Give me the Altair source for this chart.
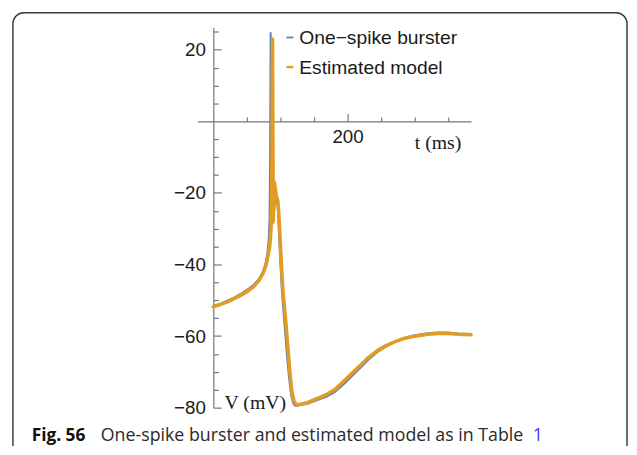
import altair as alt
import pandas as pd

# ---- data ----
t_burster = [0, 10, 20, 30, 40, 50, 60, 68, 74, 78, 80.5, 82.5, 83.8, 84.6, 85.1, 85.4,
             85.8, 86.3, 87, 88.5, 90, 92, 94, 96, 98, 100, 102, 104, 107, 110, 113, 116,
             119, 122, 126, 140, 158, 170, 182, 195, 207, 220, 231, 245, 256, 270, 280,
             295, 305, 320, 334, 350, 365, 384]
v_burster = [-51.5, -51.0, -50.2, -49.3, -48.3, -47.1, -45.7, -44.0, -42.0, -39.5, -37.0,
             -33.0, -27.0, -10.0, 10.0, 24.7, 10.0, -10.0, -25.0, -28.5, -26.0, -22.0, -21.0,
             -24.0, -32.0, -40.0, -47.0, -52.0, -59.0, -66.0, -72.0, -76.5, -78.8, -79.5,
             -79.4, -78.9, -77.7, -76.8, -75.5, -73.3, -71.1, -68.7, -66.6, -64.4, -63.1,
             -61.7, -60.9, -60.0, -59.6, -59.2, -59.0, -59.0, -59.3, -59.4]

t_model = [0, 10, 20, 30, 40, 50, 60, 68, 74, 78, 81, 84, 86, 87, 87.7, 88.2, 88.7, 89.3,
           90.2, 91, 92.5, 94, 96, 98, 100, 102, 104, 106, 108, 111, 114, 117, 120, 123,
           126, 140, 158, 170, 182, 195, 207, 220, 231, 245, 256, 270, 280, 295, 305, 320,
           334, 350, 365, 384]
v_model = [-51.8, -51.2, -50.5, -49.6, -48.7, -47.6, -46.2, -44.5, -42.5, -40.5, -38.0,
           -35.0, -30.0, -20.0, 0.0, 23.0, 0.0, -28.0, -22.0, -17.0, -19.0, -21.0, -22.0,
           -27.0, -35.0, -42.0, -48.0, -52.0, -56.0, -63.0, -70.0, -75.5, -78.0, -79.0,
           -79.2, -78.6, -77.2, -76.2, -74.8, -72.5, -70.3, -68.0, -66.0, -64.0, -62.8,
           -61.6, -60.9, -60.2, -59.9, -59.5, -59.3, -59.3, -59.5, -59.6]

series_names = ["One\u2212spike burster", "Estimated model"]
x_minor_ticks = [50, 100, 150, 200, 250, 300, 350]
x_label_values = [200]
y_label_values = [-80, -60, -40, -20, 20]
y_tick_values = [-80, -75, -70, -65, -60, -55, -50, -45, -40, -35, -30, -25, -20, -15,
                 -10, -5, 5, 10, 15, 20, 25]
x_title = "t (ms)"
y_title = "V (mV)"
caption_bold = "Fig. 56"
caption_text = "One-spike burster and estimated model as in Table"
caption_ref = "1"

BLUE = "#5E81B5"
ORANGE = "#E19C24"
AXIS = "#777777"

W, H = 277, 385
XDOM = [-23.5, 384]
YDOM = [-80, 26.2]
Y0PX = (YDOM[1] - 0) / (YDOM[1] - YDOM[0]) * H      # pixel row of V = 0
X0PX = (0 - XDOM[0]) / (XDOM[1] - XDOM[0]) * W      # pixel column of t = 0

df_b = pd.DataFrame({"t": t_burster, "v": v_burster})
df_m = pd.DataFrame({"t": t_model, "v": v_model})

xs = alt.Scale(domain=XDOM, nice=False, zero=False)
ys = alt.Scale(domain=YDOM, nice=False, zero=False)

label_font = "Liberation Sans"

# blue layer carries the labelled axes (labels + axis lines, no ticks)
blue = alt.Chart(df_b).mark_line(color=BLUE, strokeWidth=2, strokeJoin="round").encode(
    x=alt.X("t:Q", scale=xs, axis=alt.Axis(
        orient="bottom", offset=-(H - Y0PX), values=x_label_values, ticks=False,
        domain=True, domainColor=AXIS, domainWidth=1.2, labelPadding=6,
        labelFont=label_font, labelFontSize=19, labelColor="#1a1a1a",
        grid=False, title=None, format="d")),
    y=alt.Y("v:Q", scale=ys, axis=alt.Axis(
        orient="left", offset=-X0PX, values=y_label_values, ticks=False,
        domain=True, domainColor=AXIS, domainWidth=1.2, labelPadding=8,
        labelFont=label_font, labelFontSize=19, labelColor="#1a1a1a",
        grid=False, title=None, format="d")),
)

# orange layer carries the tick-only axes (ticks pointing inward)
orange = alt.Chart(df_m).mark_line(color=ORANGE, strokeWidth=3.6, strokeJoin="round",
                                   strokeCap="round").encode(
    x=alt.X("t:Q", scale=xs, axis=alt.Axis(
        orient="top", offset=-Y0PX, values=x_minor_ticks, ticks=True, labels=False,
        domain=False, tickColor=AXIS, tickWidth=1.2,
        tickSize={"condition": {"test": "datum.value === 200", "value": 8}, "value": 4.5},
        grid=False, title=None)),
    y=alt.Y("v:Q", scale=ys, axis=alt.Axis(
        orient="right", offset=-(W - X0PX), values=y_tick_values, ticks=True, labels=False,
        domain=False, tickColor=AXIS, tickWidth=1.2,
        tickSize={"condition": {"test": "datum.value % 20 === 0", "value": 8}, "value": 5},
        grid=False, title=None)),
)


def one():
    return alt.Data(values=[{"k": 1}])


def label(text, x, y, size, font, color="#1a1a1a", weight="normal", align="left"):
    return alt.Chart(one()).mark_text(
        text=text, font=font, fontSize=size, fontWeight=weight, color=color,
        align=align, baseline="alphabetic").encode(x=alt.value(x), y=alt.value(y))


def swatch(color, x1, x2, y, width):
    return alt.Chart(one()).mark_rule(color=color, strokeWidth=width).encode(
        x=alt.value(x1), x2=alt.value(x2), y=alt.value(y))


border = alt.Chart(one()).mark_rect(
    fill=None, fillOpacity=0, stroke="#3c3c3c", strokeWidth=1.5, cornerRadius=11).encode(
    x=alt.value(-187), x2=alt.value(435), y=alt.value(-15), y2=alt.value(445))

layers = [
    border,
    blue,
    orange,
    swatch(BLUE, 90, 97, 10, 1.8),
    swatch(ORANGE, 90, 97, 40, 2.4),
    label(series_names[0], 103, 16.7, 19.5, label_font),
    label(series_names[1], 103, 46.7, 19.5, label_font),
    label(x_title, 220, 123.3, 20, "Liberation Serif"),
    label(y_title, 27.3, 386.7, 20, "Liberation Serif"),
    label(caption_bold, -168, 418.3, 17.5, "Open Sans", color="#111111", weight="bold"),
    label(caption_text, -98, 418.3, 18, "Open Sans", color="#2a2a2a"),
    label(caption_ref, 339.5, 418.3, 18, "Open Sans", color="#3d3df0"),
]

chart = alt.layer(*layers).resolve_axis(x="independent", y="independent").properties(
    width=W, height=H,
    autosize=alt.AutoSizeParams(type="none"),
    padding={"left": 192, "top": 17, "right": 160, "bottom": 36},
).configure_view(stroke=None)

chart.save("out.html", embed_options={"renderer": "svg", "actions": False})
